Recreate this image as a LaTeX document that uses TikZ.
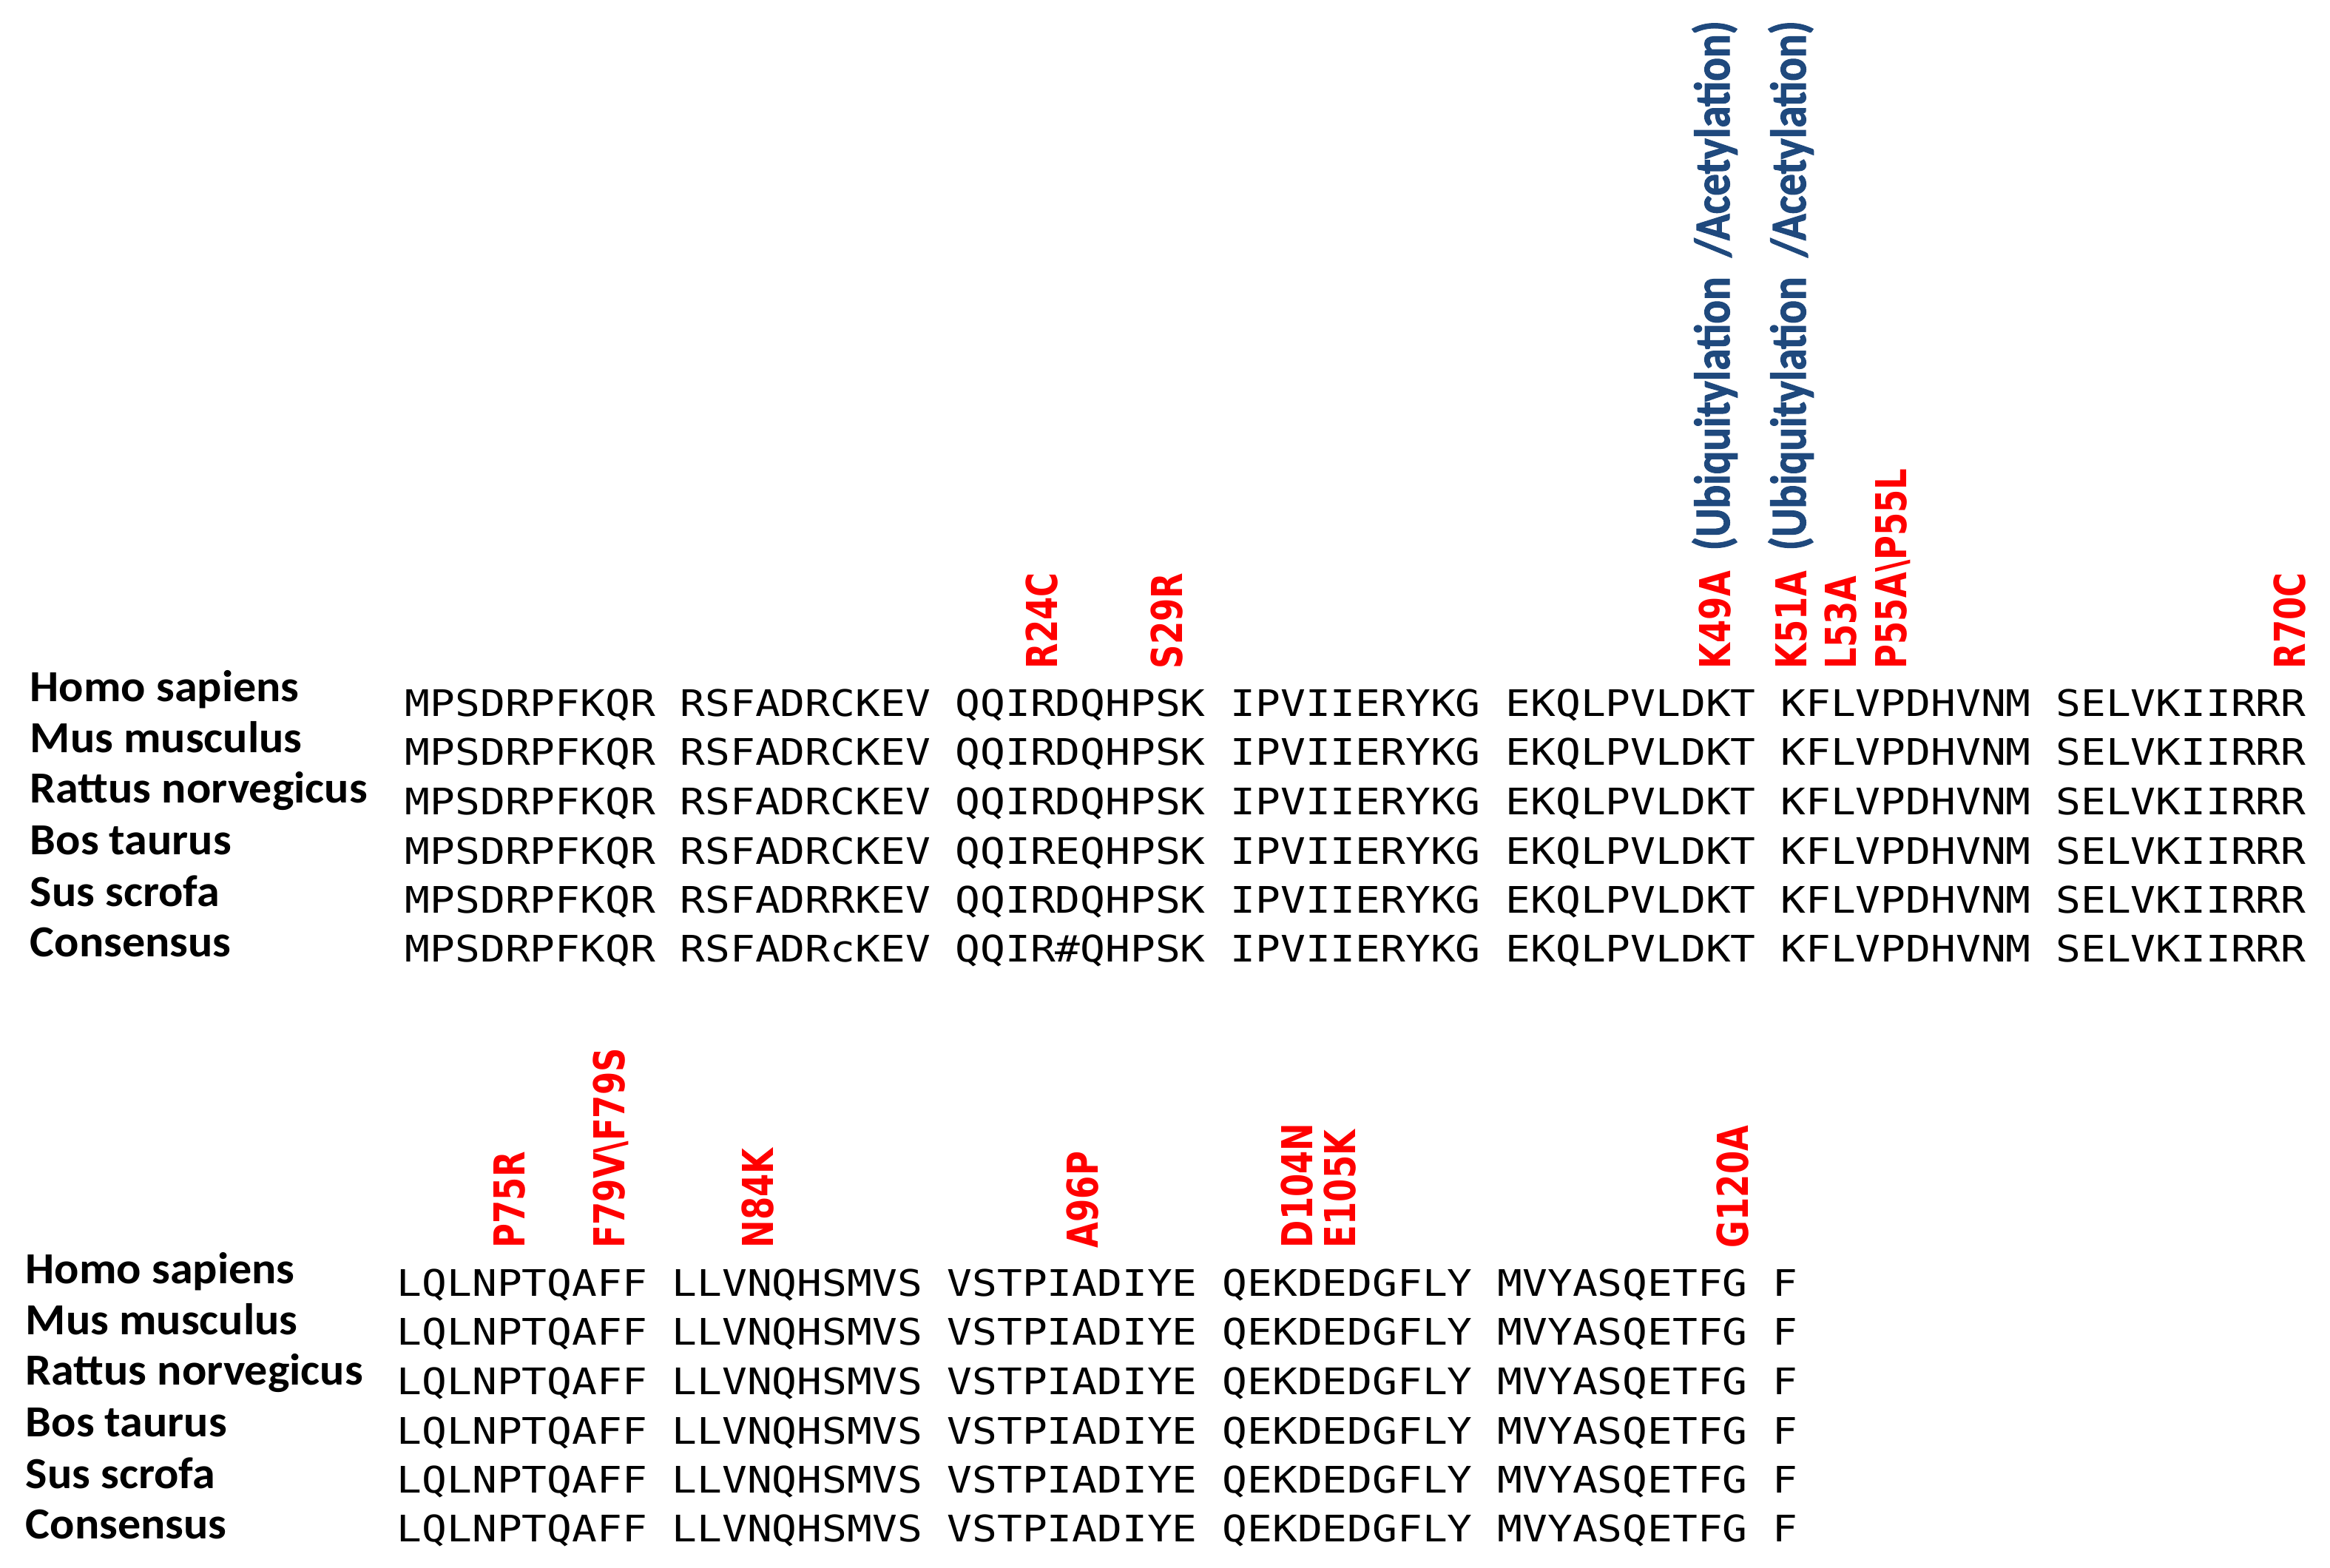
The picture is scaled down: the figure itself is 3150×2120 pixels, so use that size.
\documentclass[tikz,border=0pt]{standalone}
\usepackage{fontspec}
\newfontfamily\seqfont[FakeStretch=1.137]{DejaVu Sans Mono}
\newfontfamily\spfont[FakeStretch=1.035]{Carlito}
\newfontfamily\ptmfont[FakeStretch=0.866,BoldFeatures={FakeBold=1.6}]{Carlito}
\newfontfamily\mutfont[FakeStretch=0.78]{DejaVu Sans}
\definecolor{mutred}{RGB}{255,0,0}
\definecolor{ptmblue}{RGB}{31,73,125}
\tikzset{
  seqrow/.style={anchor=base west, inner sep=0pt, font=\seqfont\fontsize{12.35}{14}\selectfont},
  species/.style={anchor=base west, inner sep=0pt, font=\spfont\bfseries\fontsize{15}{17}\selectfont},
  mutlab/.style={anchor=base west, inner sep=0pt, rotate=90, text=mutred, font=\mutfont\bfseries\fontsize{14.4}{16}\selectfont},
  ptmlab/.style={anchor=base west, inner sep=0pt, rotate=90, text=ptmblue, font=\ptmfont\bfseries\fontsize{17}{19}\selectfont}
}
\begin{document}
\begin{tikzpicture}[x=0.25pt, y=-0.25pt]
\useasboundingbox[fill=white] (0,0) rectangle (3150,2120);

% ---------- block 1: species ----------
\node[species] (a1) at (40,948)  {Homo sapiens};
\node[species] (a2) at (40,1017) {Mus musculus};
\node[species] (a3) at (40,1085) {Rattus norvegicus};
\node[species] (a4) at (40,1155) {Bos taurus};
\node[species] (a5) at (40,1225) {Sus scrofa};
\node[species] (a6) at (40,1293) {Consensus};

% ---------- block 1: sequences ----------
\node[seqrow] (q1) at (547,968)  {MPSDRPFKQR RSFADRCKEV QQIRDQHPSK IPVIIERYKG EKQLPVLDKT KFLVPDHVNM SELVKIIRRR};
\node[seqrow] (q2) at (547,1034) {MPSDRPFKQR RSFADRCKEV QQIRDQHPSK IPVIIERYKG EKQLPVLDKT KFLVPDHVNM SELVKIIRRR};
\node[seqrow] (q3) at (547,1101) {MPSDRPFKQR RSFADRCKEV QQIRDQHPSK IPVIIERYKG EKQLPVLDKT KFLVPDHVNM SELVKIIRRR};
\node[seqrow] (q4) at (547,1168) {MPSDRPFKQR RSFADRCKEV QQIREQHPSK IPVIIERYKG EKQLPVLDKT KFLVPDHVNM SELVKIIRRR};
\node[seqrow] (q5) at (547,1234) {MPSDRPFKQR RSFADRRKEV QQIRDQHPSK IPVIIERYKG EKQLPVLDKT KFLVPDHVNM SELVKIIRRR};
\node[seqrow] (q6) at (547,1300) {MPSDRPFKQR RSFADRcKEV QQIR\#QHPSK IPVIIERYKG EKQLPVLDKT KFLVPDHVNM SELVKIIRRR};

% ---------- block 1: mutations ----------
\node[mutlab] (m24)  at (1429,905) {R24C};
\node[mutlab] (m29)  at (1598,905) {S29R};
\node[mutlab] (m49)  at (2339,905) {K49A};
\node[mutlab] (m51)  at (2442,905) {K51A};
\node[mutlab] (m53)  at (2509,905) {L53A};
\node[mutlab] (m55)  at (2577,905) {P55A\textbackslash P55L};
\node[mutlab] (m70)  at (3116,905) {R70C};
\node[ptmlab] (p49)  at (2338,745) {(Ubiquitylation\ \ /Acetylation)};
\node[ptmlab] (p51)  at (2441,745) {(Ubiquitylation\ \ /Acetylation)};

% ---------- block 2: species ----------
\node[species] (b1) at (34,1735) {Homo sapiens};
\node[species] (b2) at (34,1804) {Mus musculus};
\node[species] (b3) at (34,1872) {Rattus norvegicus};
\node[species] (b4) at (34,1942) {Bos taurus};
\node[species] (b5) at (34,2012) {Sus scrofa};
\node[species] (b6) at (34,2080) {Consensus};

% ---------- block 2: sequences ----------
\node[seqrow] (r1) at (536,1752) {LQLNPTQAFF LLVNQHSMVS VSTPIADIYE QEKDEDGFLY MVYASQETFG F};
\node[seqrow] (r2) at (536,1818) {LQLNPTQAFF LLVNQHSMVS VSTPIADIYE QEKDEDGFLY MVYASQETFG F};
\node[seqrow] (r3) at (536,1885) {LQLNPTQAFF LLVNQHSMVS VSTPIADIYE QEKDEDGFLY MVYASQETFG F};
\node[seqrow] (r4) at (536,1952) {LQLNPTQAFF LLVNQHSMVS VSTPIADIYE QEKDEDGFLY MVYASQETFG F};
\node[seqrow] (r5) at (536,2018) {LQLNPTQAFF LLVNQHSMVS VSTPIADIYE QEKDEDGFLY MVYASQETFG F};
\node[seqrow] (r6) at (536,2084) {LQLNPTQAFF LLVNQHSMVS VSTPIADIYE QEKDEDGFLY MVYASQETFG F};

% ---------- block 2: mutations ----------
\node[mutlab] (m75)  at (709,1688)  {P75R};
\node[mutlab] (m79)  at (844,1688)  {F79V\textbackslash F79S};
\node[mutlab] (m84)  at (1045,1688) {N84K};
\node[mutlab] (m96)  at (1484,1688) {A96P};
\node[mutlab] (m104) at (1774,1688) {D104N};
\node[mutlab] (m105) at (1832,1688) {E105K};
\node[mutlab] (m120) at (2363,1688) {G120A};
\end{tikzpicture}
\end{document}
